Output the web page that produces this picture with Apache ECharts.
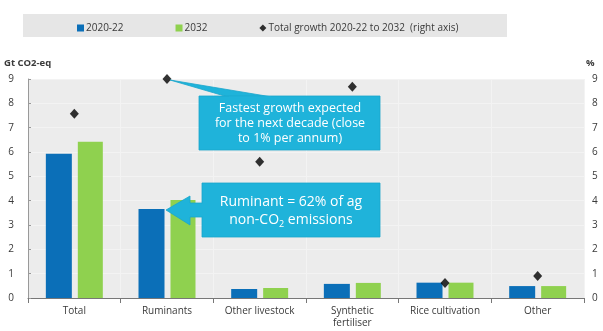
<!DOCTYPE html>
<html>
<head>
<meta charset="utf-8">
<script src="https://cdn.jsdelivr.net/npm/echarts@6/dist/echarts.min.js"></script>
<style>
html, body { margin: 0; padding: 0; background: #fff; }
#chart { width: 603px; height: 331px; }
</style>
</head>
<body>
<div id="chart"></div>
<script>
// data
let categories = ['Total', 'Ruminants', 'Other livestock', 'Synthetic\nfertiliser', 'Rice cultivation', 'Other'];
let base2022 = [5.93, 3.66, 0.37, 0.58, 0.63, 0.49];   // Gt CO2-eq
let proj2032 = [6.42, 4.03, 0.41, 0.62, 0.63, 0.49];   // Gt CO2-eq
let growth = [7.57, 9.0, 5.6, 8.68, 0.62, 0.9];          // %, right axis
let yTicks = [0, 1, 2, 3, 4, 5, 6, 7, 8, 9];

let seriesNames = ['2020-22', '2032', 'Total growth 2020-22 to 2032  (right axis)'];

window.onload = function () {
    let chart = echarts.init(document.getElementById('chart'));
    let font = 'Open Sans';
    let txt = '#3a3a3a';
    let callout = '#1fb3da';
    let edge = '#1ba6cc';

    let option = {
        animation: false,
        textStyle: { fontFamily: font },
        legend: {
            top: 18,
            left: 72,
            itemWidth: 7,
            itemHeight: 7,
            itemGap: 52,
            textStyle: { fontSize: 10, color: txt, padding: [0, 0, 0, -3] },
            data: [
                { name: seriesNames[0], icon: 'rect' },
                { name: seriesNames[1], icon: 'rect' },
                { name: seriesNames[2], icon: 'diamond' }
            ]
        },
        grid: { left: 28, right: 19, top: 79, bottom: 33 },
        xAxis: {
            type: 'category',
            data: categories,
            axisLine: { lineStyle: { color: '#777' } },
            axisTick: { show: true, lineStyle: { color: '#777' } },
            axisLabel: { fontSize: 10, color: txt, margin: 7, lineHeight: 12 },
            splitLine: { show: true, lineStyle: { color: '#f3f3f3', width: 1 } },
            splitArea: { show: false }
        },
        yAxis: [
            {
                type: 'value',
                min: 0, max: 9, interval: 1,
                name: 'Gt CO2-eq',
                nameLocation: 'end',
                nameGap: 11,
                nameTextStyle: { fontSize: 9.5, fontWeight: 'bold', color: txt, align: 'left', padding: [0, 0, 0, -24] },
                axisLine: { show: true, lineStyle: { color: '#999' } },
                axisTick: { show: true, length: 3, inside: true, lineStyle: { color: '#999' } },
                axisLabel: { fontSize: 10, color: txt, margin: 14,
                    formatter: function (v) { return yTicks.indexOf(v) >= 0 ? String(v) : ''; } },
                splitLine: { show: true, lineStyle: { color: '#f3f3f3' } },
                splitArea: { show: true, areaStyle: { color: ['#ececec', '#ececec'] } }
            },
            {
                type: 'value',
                min: 0, max: 9, interval: 1,
                name: '%',
                nameGap: 11,
                nameTextStyle: { fontSize: 9.5, fontWeight: 'bold', color: txt, align: 'left', padding: [0, 0, 0, 2] },
                axisLine: { show: false },
                axisTick: { show: false },
                axisLabel: { fontSize: 10, color: txt, margin: 8 },
                splitLine: { show: false }
            }
        ],
        series: [
            {
                name: seriesNames[0],
                type: 'bar',
                data: base2022,
                barWidth: 26,
                barGap: '23%',
                itemStyle: { color: '#0b6fb8' }
            },
            {
                name: seriesNames[1],
                type: 'bar',
                data: proj2032,
                barWidth: 25,
                itemStyle: { color: '#8fd14f' }
            },
            {
                name: seriesNames[2],
                type: 'scatter',
                yAxisIndex: 1,
                data: growth,
                symbol: 'diamond',
                symbolSize: [9, 10],
                itemStyle: { color: '#000' },
                z: 5
            }
        ],
        graphic: [
            // legend strip
            {
                type: 'rect', z: -1, silent: true,
                shape: { x: 23, y: 14, width: 484, height: 23 },
                style: { fill: '#e6e6e6' }
            },
            // callout 1 pointer + box
            {
                type: 'polygon', z: 10,
                shape: { points: [[170, 80], [228, 97], [272, 97]] },
                style: { fill: callout, stroke: edge, lineWidth: 0.8 }
            },
            {
                type: 'rect', z: 10,
                shape: { x: 199, y: 96, width: 181, height: 54 },
                style: { fill: callout, stroke: edge, lineWidth: 0.8 }
            },
            {
                type: 'rect', z: 11,
                shape: { x: 229, y: 96.5, width: 42, height: 2 },
                style: { fill: callout }
            },
            {
                type: 'text', z: 12,
                x: 290, y: 123,
                style: {
                    text: 'Fastest growth expected\nfor the next decade (close\nto 1% per annum)',
                    fill: '#fff', fontSize: 12.5, fontFamily: font, lineHeight: 15,
                    align: 'center', verticalAlign: 'middle'
                }
            },
            // callout 2 arrow + box
            {
                type: 'polygon', z: 10,
                shape: { points: [[166, 210], [190, 196], [190, 203], [204, 203], [204, 217], [190, 217], [190, 225]] },
                style: { fill: callout, stroke: edge, lineWidth: 0.8 }
            },
            {
                type: 'rect', z: 10,
                shape: { x: 202, y: 183, width: 178, height: 54 },
                style: { fill: callout, stroke: edge, lineWidth: 0.8 }
            },
            {
                type: 'rect', z: 11,
                shape: { x: 200, y: 203.5, width: 4, height: 13 },
                style: { fill: callout }
            },
            {
                type: 'text', z: 12,
                x: 291, y: 211,
                style: {
                    text: 'Ruminant = 62% of ag\nnon-CO{s|2} emissions',
                    fill: '#fff', fontSize: 14, fontFamily: font, lineHeight: 18,
                    align: 'center', verticalAlign: 'middle',
                    rich: { s: { fontSize: 9, fill: '#fff', padding: [8, 0, 0, 0], fontFamily: font } }
                }
            }
        ]
    };

    if (option && typeof option === "object") {
        chart.setOption(option, true);
    }
};
</script>
</body>
</html>
